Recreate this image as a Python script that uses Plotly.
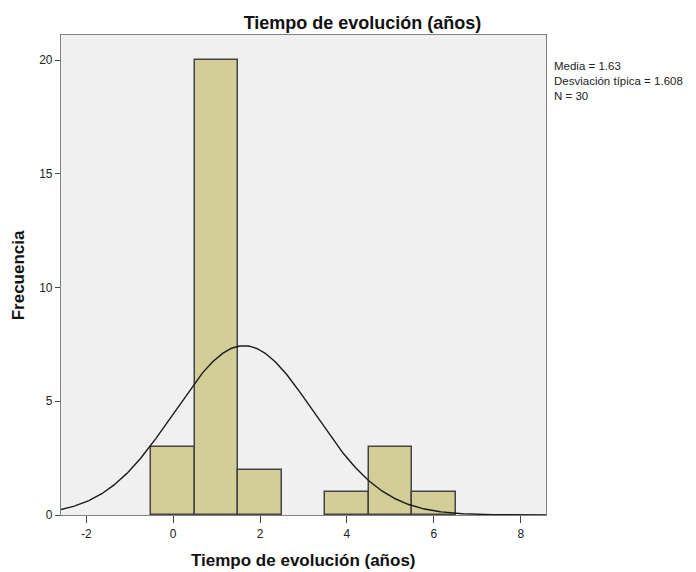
import numpy as np
import plotly.graph_objects as go

# Histogram bins (center of each one-year bin) and frequencies
bin_centers = [0, 1, 2, 3, 4, 5, 6]
frequencies = [3, 20, 2, 0, 1, 3, 1]

# Summary statistics shown beside the chart
mean_value = 1.63
std_value = 1.608
n_total = 30
bin_width = 1

x_range = [-2.58, 8.58]
y_range = [0, 21.1]
x_ticks = [-2, 0, 2, 4, 6, 8]
x_tick_labels = ["-2", "0", "2", "4", "6", "8"]
y_ticks = [0, 5, 10, 15, 20]

# Normal curve scaled to counts
xs = np.linspace(x_range[0], x_range[1], 400)
ys = n_total * bin_width / (std_value * np.sqrt(2 * np.pi)) * np.exp(-0.5 * ((xs - mean_value) / std_value) ** 2)

# Empty bins get no outline
outline_widths = [1.5 if f > 0 else 0 for f in frequencies]

fig = go.Figure()
fig.add_trace(go.Bar(
    x=bin_centers, y=frequencies, width=bin_width,
    marker=dict(color="#D3CE98", line=dict(color="#444444", width=outline_widths)),
    hoverinfo="x+y", showlegend=False,
))
fig.add_trace(go.Scatter(
    x=xs, y=ys, mode="lines",
    line=dict(color="#1A1A1A", width=1.4),
    hoverinfo="skip", showlegend=False,
))

font_family = "Liberation Sans, Arial, sans-serif"
stats_text = f"Media = {mean_value}<br>Desviación típica = {std_value}<br>N = {n_total}"

annotations = [
    # x-axis title
    dict(text="<b>Tiempo de evolución (años)</b>", xref="paper", yref="paper",
         x=0.5, y=-0.094, xanchor="center", yanchor="middle", showarrow=False,
         font=dict(size=17, color="#111111")),
    # y-axis title
    dict(text="<b>Frecuencia</b>", xref="paper", yref="paper", textangle=-90,
         x=-0.088, y=0.5, xanchor="center", yanchor="middle", showarrow=False,
         font=dict(size=17, color="#111111")),
    # summary statistics
    dict(text=stats_text, xref="paper", yref="paper", x=1.012, y=0.952,
         xanchor="left", yanchor="top", align="left", showarrow=False,
         font=dict(size=11.5, color="#222222")),
]

fig.update_layout(
    width=696, height=572,
    margin=dict(l=61, r=150, t=35, b=57),
    paper_bgcolor="white",
    plot_bgcolor="#F0F0F0",
    font=dict(family=font_family, size=12, color="#222222"),
    title=dict(text="<b>Tiempo de evolución (años)</b>", xref="container", x=0.5208, xanchor="center",
               yref="container", y=0.961, yanchor="middle", font=dict(size=18, color="#111111")),
    bargap=0,
    xaxis=dict(
        range=x_range, tickvals=x_ticks, ticktext=x_tick_labels, ticks="outside", ticklen=7,
        tickcolor="#444444", showgrid=False, zeroline=False, showline=True, linecolor="#808080",
        linewidth=1.2, mirror=True, tickfont=dict(size=12, color="#222222"),
    ),
    yaxis=dict(
        range=y_range, tickvals=y_ticks, ticks="outside", ticklen=5, tickcolor="#444444",
        showgrid=False, zeroline=False, showline=True, linecolor="#808080", linewidth=1.2,
        mirror=True, tickfont=dict(size=12, color="#222222"),
    ),
    annotations=annotations,
)

fig.write_html("out.html")
